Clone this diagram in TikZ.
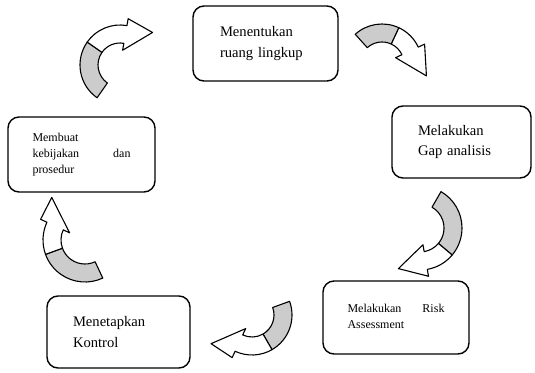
\documentclass[tikz,border=0pt]{standalone}
\usepackage{fontspec}
\setmainfont{Liberation Serif}

\begin{document}
\begin{tikzpicture}[x=1pt, y=-1pt, line join=round]

	\useasboundingbox (0,0) rectangle (535,372);
	\tikzset{
		stepbox/.style={
			draw, rounded corners=11pt, line width=1.4pt, align=left
		},		% kotak langkah
		bigtext/.style={font=\fontsize{14.6}{20.5}\selectfont},
		smalltext/.style={font=\fontsize{12}{16}\selectfont},
		tailpart/.style={draw, line width=1.1pt, fill=black!20},	% ekor abu-abu
		headpart/.style={draw, line width=1.1pt, fill=white}		% badan + kepala
	};

	% kotak-kotak langkah
	\node[stepbox, bigtext, minimum width=145pt, minimum height=75pt, text width=91pt]
		(menentukan) at (265.5,43.5) {Menentukan\\ruang lingkup};
	\node[stepbox, bigtext, minimum width=139pt, minimum height=72pt, text width=87pt]
		(gap) at (461.5,142) {Melakukan\\Gap analisis};
	\node[stepbox, smalltext, minimum width=146pt, minimum height=73pt, text width=97pt, text depth=19pt]
		(risk) at (396,317.5) {Melakukan\hfill Risk\\Assessment};
	\node[stepbox, bigtext, minimum width=143pt, minimum height=72pt, text width=91pt]
		(kontrol) at (118.5,332) {Menetapkan\\Kontrol};
	\node[stepbox, smalltext, minimum width=147pt, minimum height=75pt, text width=98pt]
		(kebijakan) at (81.5,154.5) {Membuat\\kebijakan\hfill dan\\prosedur};

	% panah melengkung (pusat, jari-jari, sudut ekor/abu/kepala/ujung)
	\foreach \cx/\cy/\ro/\ta/\tm/\tb/\tt/\rt in {
			120/65/40/125/215/280/315/46,
			382/64/40/228/295/335/375/46,
			420/228/42/300/400/440/478/46,
			252/315/40/340/420/475/505/50,
			85/240/42/65/160/205/232/54 } {
		\pgfmathsetmacro{\ri}{\ro-18}
		\pgfmathsetmacro{\rbo}{\ro+7}
		\pgfmathsetmacro{\rbi}{\ro-25}
		\begin{scope}[shift={(\cx,\cy)}]
			\draw[tailpart] (\ta:\ro) arc[start angle=\ta, end angle=\tm, radius=\ro]
				-- (\tm:\ri) arc[start angle=\tm, end angle=\ta, radius=\ri] -- cycle;
			\draw[headpart] (\tm:\ro) arc[start angle=\tm, end angle=\tb, radius=\ro]
				-- (\tb:\rbo) -- (\tt:\rt) -- (\tb:\rbi)
				-- (\tb:\ri) arc[start angle=\tb, end angle=\tm, radius=\ri] -- cycle;
		\end{scope}
	}

\end{tikzpicture}
\end{document}
